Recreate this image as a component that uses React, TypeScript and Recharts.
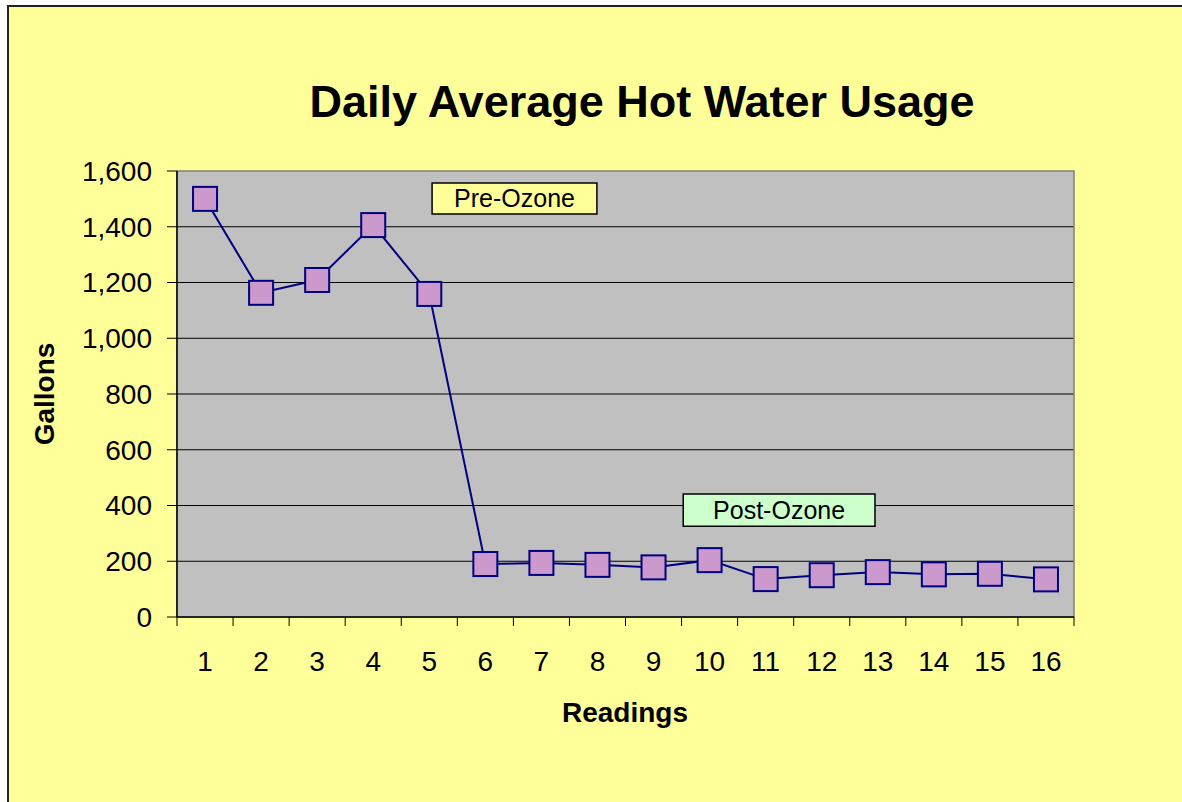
import React from 'react'
import {
  LineChart,
  Line,
  XAxis,
  YAxis,
  CartesianGrid,
  ReferenceArea,
} from 'recharts'

// readings 1..16 and their daily average gallons
const readings = [1, 2, 3, 4, 5, 6, 7, 8, 9, 10, 11, 12, 13, 14, 15, 16]
const gallons = [1500, 1163, 1209, 1406, 1159, 190, 194, 187, 178, 204, 136, 150, 161, 153, 155, 135]
const yTicks = [0, 200, 400, 600, 800, 1000, 1200, 1400, 1600]
const gridValues = [200, 400, 600, 800, 1000, 1200, 1400]

const data = readings.map((r, i) => ({ reading: r, gallons: gallons[i] }))

// labels sit on whole numbers, tick marks between categories
const xTicks = readings.flatMap((r) => [r - 0.5, r]).concat(readings.length + 0.5)

const FONT = '"Liberation Sans", Arial, sans-serif'

function XTick({ x, y, payload }: any) {
  const v = payload.value
  if (!Number.isInteger(v)) {
    return <line x1={x} x2={x} y1={y} y2={y + 9} stroke="#000" strokeWidth={1} />
  }
  return (
    <text x={x} y={y + 54} textAnchor="middle" fill="#000" fontSize={28} fontFamily={FONT}>
      {v}
    </text>
  )
}

function SquareDot({ cx, cy, index }: any) {
  return (
    <rect
      key={index}
      x={cx - 12}
      y={cy - 12}
      width={24}
      height={24}
      fill="#CC99CC"
      stroke="#000080"
      strokeWidth={2}
    />
  )
}

export default function App() {
  return (
    <div
      style={{
        position: 'fixed',
        left: 7,
        top: 5,
        width: 1190,
        height: 810,
        border: '2px solid #222',
        background: '#FFFF99',
        fontFamily: FONT,
        overflow: 'hidden',
      }}
    >
      {/* Title */}
      <div
        style={{
          position: 'absolute',
          left: 633,
          top: 72,
          transform: 'translateX(-50%)',
          whiteSpace: 'nowrap',
          fontSize: 45,
          lineHeight: '45px',
          fontWeight: 'bold',
          color: '#000',
        }}
      >
        Daily Average Hot Water Usage
      </div>

      {/* Axis titles */}
      <div
        style={{
          position: 'absolute',
          left: 36,
          top: 387,
          transform: 'translate(-50%, -50%) rotate(-90deg)',
          whiteSpace: 'nowrap',
          fontSize: 28,
          lineHeight: '28px',
          fontWeight: 'bold',
        }}
      >
        Gallons
      </div>
      <div
        style={{
          position: 'absolute',
          left: 616,
          top: 706,
          transform: 'translate(-50%, -50%)',
          whiteSpace: 'nowrap',
          fontSize: 28,
          lineHeight: '28px',
          fontWeight: 'bold',
        }}
      >
        Readings
      </div>

      <LineChart
        width={1175}
        height={797}
        data={data}
        margin={{ top: 164, right: 110, left: 0, bottom: 127 }}
        style={{ position: 'absolute', left: 0, top: 0 }}
      >
        <CartesianGrid
          vertical={false}
          horizontalValues={gridValues}
          stroke="#000"
          strokeDasharray=""
          fill="#C0C0C0"
          fillOpacity={1}
        />
        {/* plot area frame */}
        <ReferenceArea
          x1={0.5}
          x2={readings.length + 0.5}
          y1={0}
          y2={1600}
          fill="none"
          stroke="#808080"
          strokeWidth={1.5}
          ifOverflow="visible"
        />
        <ReferenceArea
          x1={5.05}
          x2={7.99}
          y1={1446}
          y2={1557}
          fill="#FFFF99"
          fillOpacity={1}
          stroke="#000"
          strokeWidth={1.5}
          label={{ value: 'Pre-Ozone', position: 'center', fill: '#000', fontSize: 25, fontFamily: FONT }}
        />
        <ReferenceArea
          x1={9.53}
          x2={12.95}
          y1={326}
          y2={441}
          fill="#CCFFCC"
          fillOpacity={1}
          stroke="#000"
          strokeWidth={1.5}
          label={{ value: 'Post-Ozone', position: 'center', fill: '#000', fontSize: 25, fontFamily: FONT }}
        />
        <XAxis
          dataKey="reading"
          type="number"
          domain={[0.5, readings.length + 0.5]}
          ticks={xTicks}
          interval={0}
          height={60}
          tickLine={false}
          tickSize={0}
          tickMargin={0}
          axisLine={{ stroke: '#000', strokeWidth: 1.5 }}
          tick={<XTick />}
        />
        <YAxis
          domain={[0, 1600]}
          ticks={yTicks}
          interval={0}
          width={168}
          tickSize={10}
          tickMargin={15}
          axisLine={{ stroke: '#000', strokeWidth: 1.5 }}
          tickLine={{ stroke: '#000' }}
          tick={{ fill: '#000', fontSize: 28, fontFamily: FONT }}
          tickFormatter={(v: number) => v.toLocaleString('en-US')}
        />
        <Line
          type="linear"
          dataKey="gallons"
          stroke="#000080"
          strokeWidth={2}
          dot={<SquareDot />}
          activeDot={false}
          isAnimationActive={false}
        />
      </LineChart>
    </div>
  )
}
